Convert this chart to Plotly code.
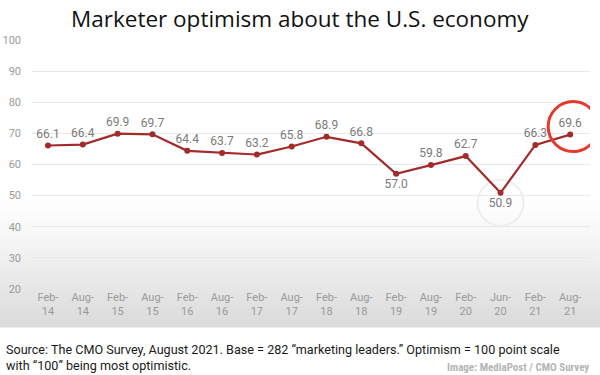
import plotly.graph_objects as go

categories = ["Feb-<br>14", "Aug-<br>14", "Feb-<br>15", "Aug-<br>15", "Feb-<br>16", "Aug-<br>16",
              "Feb-<br>17", "Aug-<br>17", "Feb-<br>18", "Aug-<br>18", "Feb-<br>19", "Aug-<br>19",
              "Feb-<br>20", "Jun-<br>20", "Feb-<br>21", "Aug-<br>21"]
optimism = [66.1, 66.4, 69.9, 69.7, 64.4, 63.7, 63.2, 65.8, 68.9, 66.8, 57.0, 59.8, 62.7, 50.9, 66.3, 69.6]
label_below = [False] * 10 + [True] + [False] * 2 + [True] + [False] * 2
y_ticks = [20, 30, 40, 50, 60, 70, 80, 90, 100]

W, H = 600, 375
ML, MR, MT, MB = 32, 10, 40, 86
PH = H - MT - MB
PW = W - ML - MR


def py(px):  # pixel y -> paper y
    return (H - MB - px) / PH


def pxx(px):  # pixel x -> paper x
    return (px - ML) / PW


positions = ["bottom center" if b else "top center" for b in label_below]

fig = go.Figure()
fig.add_trace(go.Scatter(
    x=categories, y=optimism, mode="lines+markers+text",
    line=dict(color="#a32b2b", width=2.2),
    marker=dict(color="#a32b2b", size=6),
    texttemplate="%{y:.1f}", textposition=positions,
    textfont=dict(family="Roboto, Arial, sans-serif", size=12, color="#7a7a7a"),
    cliponaxis=False, hoverinfo="skip", showlegend=False,
))

shapes = []
# gradient band at bottom of the chart image
top_px, bot_px, n = 195, 327, 44
for i in range(n):
    t = (i + 0.5) / n
    g = int(round(255 - (255 - 218) * t ** 1.2))
    y0 = top_px + (bot_px - top_px) * i / n
    y1 = top_px + (bot_px - top_px) * (i + 1) / n + 0.6
    shapes.append(dict(type="rect", xref="paper", yref="paper",
                       x0=pxx(0), x1=pxx(W), y0=py(y1), y1=py(y0),
                       fillcolor=f"rgb({g},{g},{g})", line=dict(width=0), layer="below"))

# highlight circles anchored on data points
last_i = len(optimism) - 1
shapes.append(dict(type="circle", xref="x", yref="y", xsizemode="pixel", ysizemode="pixel",
                   xanchor=categories[last_i], yanchor=optimism[last_i],
                   x0=-22, x1=28, y0=-17, y1=33,
                   line=dict(color="#e8372c", width=3), layer="above"))
min_i = optimism.index(min(optimism))
shapes.append(dict(type="circle", xref="x", yref="y", xsizemode="pixel", ysizemode="pixel",
                   xanchor=categories[min_i], yanchor=optimism[min_i],
                   x0=-23, x1=23, y0=-33, y1=13,
                   line=dict(color="#eeeeee", width=2), layer="below"))

annotations = [
    dict(text="Marketer optimism about the U.S. economy", xref="paper", yref="paper",
         x=pxx(300), y=py(18), xanchor="center", yanchor="middle", showarrow=False,
         font=dict(family="Open Sans, Noto Sans, sans-serif", size=22.5, color="#111111")),
    dict(text="Source: The CMO Survey, August 2021. Base = 282 “marketing leaders.” Optimism = 100 point scale<br>"
              "with “100” being most optimistic.",
         xref="paper", yref="paper", x=pxx(4), y=py(340), xanchor="left", yanchor="top", align="left",
         showarrow=False, font=dict(family="Roboto, Arial, sans-serif", size=12.6, color="#1a1a1a")),
    dict(text="<b>Image: MediaPost / CMO Survey</b>", xref="paper", yref="paper",
         x=pxx(591), y=py(367), xanchor="right", yanchor="middle", showarrow=False,
         font=dict(family="Liberation Sans Narrow, Roboto Condensed, Arial Narrow, sans-serif",
                   size=11, color="#b5b5b5")),
]

fig.update_layout(
    width=W, height=H, margin=dict(l=ML, r=MR, t=MT, b=MB, autoexpand=False),
    paper_bgcolor="white", plot_bgcolor="rgba(0,0,0,0)",
    shapes=shapes, annotations=annotations, showlegend=False,
    xaxis=dict(type="category", range=[-0.46, 15.57], showgrid=False, showline=False, zeroline=False,
               automargin=False,
               ticks="", tickfont=dict(family="Roboto, Arial, sans-serif", size=11, color="#9a9a9a")),
    yaxis=dict(range=[20, 100], tickvals=y_ticks, showgrid=True, gridcolor="#e9e9e9", gridwidth=1,
               zeroline=False, showline=False, ticks="", ticklabelstandoff=10, automargin=False,
               tickfont=dict(family="Roboto, Arial, sans-serif", size=11, color="#9a9a9a")),
)

fig.write_html("out.html", config={"displayModeBar": False},
               post_script="document.body.style.margin='0';document.body.style.overflow='hidden';")
